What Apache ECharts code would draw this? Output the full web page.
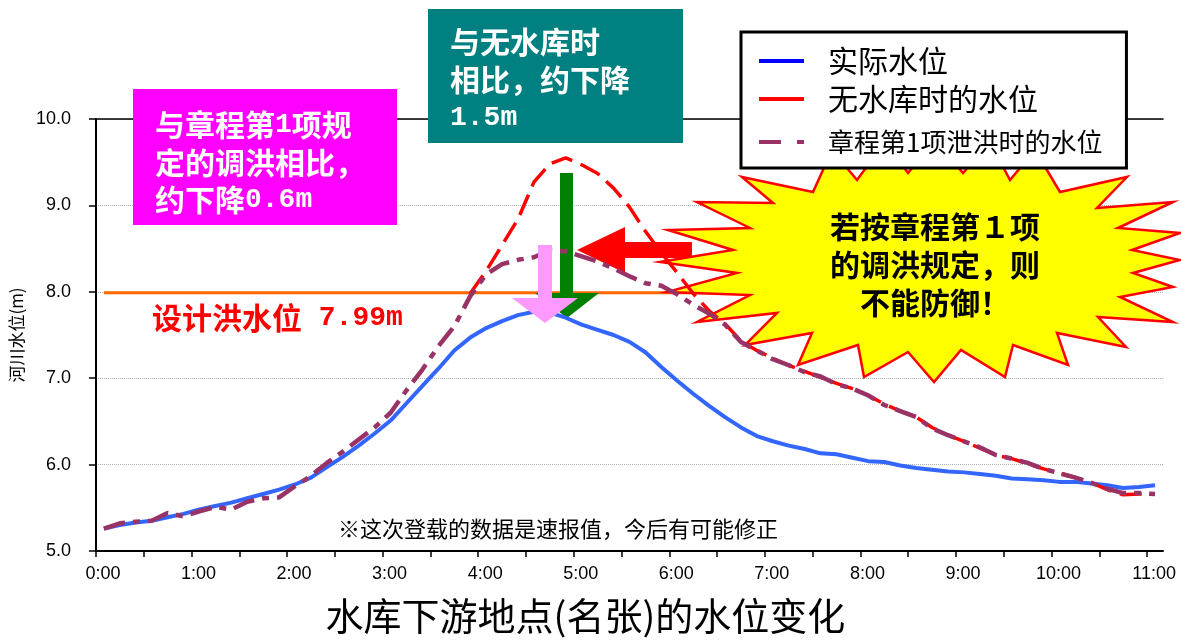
<!DOCTYPE html>
<html>
<head>
<meta charset="utf-8">
<script src="https://cdn.jsdelivr.net/npm/echarts@6/dist/echarts.min.js"></script>
<style>
  html, body { margin: 0; padding: 0; background: #fff; }
  #chart { width: 1181px; height: 640px; }
</style>
</head>
<body>
<div id="chart"></div>
<script>
// Observation times (minutes after 0:00)
const minutes = [5, 15, 25, 35, 45, 55, 65, 75, 85, 95, 105, 115, 125, 135, 145, 155, 165, 175, 185, 195,
  205, 215, 225, 235, 245, 255, 265, 275, 285, 295, 305, 315, 325, 335, 345, 355, 365, 375, 385, 395,
  405, 415, 425, 435, 445, 455, 465, 475, 485, 495, 505, 515, 525, 535, 545, 555, 565, 575, 585, 595,
  605, 615, 625, 635, 645, 655, 665];

// 实际水位 (m)
const actualLevel = [5.26, 5.30, 5.33, 5.35, 5.39, 5.43, 5.48, 5.52, 5.56, 5.61,
  5.66, 5.71, 5.77, 5.85, 5.97, 6.09, 6.22, 6.36, 6.51, 6.71,
  6.91, 7.11, 7.32, 7.47, 7.58, 7.66, 7.73, 7.77, 7.76, 7.70,
  7.62, 7.56, 7.50, 7.42, 7.30, 7.13, 6.97, 6.82, 6.68, 6.55,
  6.43, 6.33, 6.27, 6.22, 6.18, 6.13, 6.12, 6.08, 6.04, 6.03,
  5.99, 5.96, 5.94, 5.92, 5.91, 5.89, 5.87, 5.84, 5.83, 5.82,
  5.80, 5.80, 5.78, 5.76, 5.73, 5.74, 5.76];

// 无水库时的水位 (m) — computed only from 3:55 onward
const noDamLevel = [null, null, null, null, null, null, null, null, null, null,
  null, null, null, null, null, null, null, null, null, null,
  null, null, null, 7.98, 8.24, 8.54, 8.84, 9.27, 9.48, 9.55,
  9.47, 9.37, 9.20, 8.98, 8.70, 8.45, 8.22, 7.98, 7.78, 7.63,
  7.43, 7.32, 7.23, 7.15, 7.08, 7.01, 6.94, 6.88, 6.80, 6.70,
  6.62, 6.55, 6.43, 6.34, 6.27, 6.19, 6.11, 6.07, 6.01, 5.95,
  5.90, 5.85, 5.79, 5.71, 5.65, 5.66, 5.66];

// 章程第1项泄洪时的水位 (m)
const rule1Level = [5.26, 5.32, 5.34, 5.35, 5.44, 5.40, 5.46, 5.51, 5.48, 5.57,
  5.61, 5.62, 5.75, 5.87, 6.02, 6.15, 6.29, 6.43, 6.60, 6.86,
  7.10, 7.37, 7.60, 7.95, 8.20, 8.32, 8.37, 8.40, 8.48, 8.47,
  8.41, 8.35, 8.27, 8.18, 8.10, 8.07, 7.97, 7.85, 7.75, 7.62,
  7.42, 7.32, 7.22, 7.15, 7.07, 7.02, 6.93, 6.88, 6.80, 6.69,
  6.62, 6.55, 6.42, 6.34, 6.27, 6.20, 6.11, 6.07, 6.02, 5.95,
  5.90, 5.85, 5.79, 5.72, 5.67, 5.67, 5.66];

const hourLabels = ['0:00', '1:00', '2:00', '3:00', '4:00', '5:00', '6:00', '7:00', '8:00', '9:00', '10:00', '11:00'];
const designLevel = 7.99;          // 设计洪水位 (m)
const designSpan = [5, 390];       // minutes covered by the design-level line

const CJK = '"Noto Sans CJK SC", "Noto Sans", sans-serif';
const MONO = '"Liberation Mono", "DejaVu Sans Mono", monospace';

const pairs = (vals) => minutes.map((t, i) => [t, vals[i]]).filter(p => p[1] !== null);
const hourTicks = hourLabels.map((_, i) => i * 60);
const halfHourTicks = [];
for (let m = 0; m <= 660; m += 30) halfHourTicks.push(m);

// Rich-text line: CJK in a gothic face, Latin digits in a half-width mono face
function richLine(x, y, text, color, cjkSize, monoSize, align) {
  return {
    type: 'text', x: x, y: y, z: 6,
    style: {
      text: text, align: align || 'left', verticalAlign: 'middle',
      rich: {
        c: { fontFamily: CJK, fontWeight: 'bold', fontSize: cjkSize, fill: color },
        m: { fontFamily: MONO, fontWeight: 'bold', fontSize: monoSize, fill: color }
      }
    }
  };
}

const starPoints = [[742,177],[813,192],[832,150],[857,180],[885,142],[908,173],[935,140],[963,173],
  [990,142],[1010,180],[1035,150],[1060,192],[1127,177],[1097,208],[1173,202],[1118,228],[1180,233],
  [1132,250],[1180,260],[1133,273],[1173,287],[1120,297],[1173,322],[1098,317],[1126,347],[1057,333],
  [1068,365],[1013,345],[1005,377],[961,350],[934,382],[908,352],[864,377],[858,345],[798,365],
  [812,333],[745,345],[777,313],[697,322],[750,295],[667,292],[737,273],[660,262],[733,250],
  [668,230],[750,228],[697,202],[773,203]];

const chart = echarts.init(document.getElementById('chart'), null, { renderer: 'canvas' });

const option = {
  animation: false,
  backgroundColor: '#fff',
  grid: { left: 95, right: 18, top: 119, bottom: 85 },
  legend: {
    orient: 'vertical',
    left: 741, top: 32,
    padding: [14, 24, 6, 16],
    itemWidth: 45, itemHeight: 14, itemGap: 8,
    backgroundColor: '#fff',
    borderColor: '#000', borderWidth: 3, borderRadius: 0,
    itemStyle: { opacity: 0, borderWidth: 0 },
    lineStyle: { width: 4 },
    textStyle: { fontFamily: CJK, fontSize: 30, color: '#000', lineHeight: 30, padding: [0, 0, 0, 19] },
    data: [
      { name: '实际水位', lineStyle: { color: '#0000FF' } },
      { name: '无水库时的水位', lineStyle: { type: 'solid' } },
      { name: '章程第1项泄洪时的水位', lineStyle: { type: [22, 16, 7, 16] },
        textStyle: { fontSize: 26, lineHeight: 40 } }
    ]
  },
  xAxis: [
    {
      type: 'value', min: 0, max: 670, position: 'bottom',
      axisLine: { lineStyle: { color: '#000', width: 2 } },
      axisTick: { show: true, length: 6, customValues: halfHourTicks, lineStyle: { color: '#000', width: 1.5 } },
      axisLabel: {
        customValues: hourTicks,
        formatter: v => hourLabels[Math.round(v / 60)],
        color: '#000', fontSize: 18, fontFamily: '"Liberation Sans", Arial, sans-serif',
        margin: 14, padding: [0, 0, 0, 14]
      },
      splitLine: { show: false },
      name: '水库下游地点(名张)的水位变化',
      nameLocation: 'middle', nameGap: 46,
      nameTextStyle: { fontFamily: CJK, fontSize: 38, color: '#000', padding: [0, 88, 0, 0] }
    },
    {
      type: 'value', min: 0, max: 670, position: 'top',
      axisLine: { show: true, lineStyle: { color: '#000', width: 1.5 } },
      axisTick: { show: false }, axisLabel: { show: false }, splitLine: { show: false }
    }
  ],
  yAxis: [
    {
      type: 'value', min: 5, max: 10, interval: 1,
      axisLine: { show: true, lineStyle: { color: '#000', width: 2 } },
      axisTick: { show: true, length: 7, lineStyle: { color: '#000', width: 1.5 } },
      axisLabel: { formatter: v => v.toFixed(1), color: '#000', fontSize: 18,
        fontFamily: '"Liberation Sans", Arial, sans-serif', margin: 25 },
      splitLine: { show: true, lineStyle: { color: '#aaa', type: 'dotted', width: 1 } },
      name: '河川水位(m)', nameLocation: 'middle', nameGap: 60, nameRotate: 90,
      nameTextStyle: { fontFamily: CJK, fontSize: 17, color: '#000' }
    },
    {
      type: 'value', min: 5, max: 10, interval: 1, position: 'right', z: 3,
      axisLine: { show: true, lineStyle: { color: '#000', width: 1.5 } },
      axisTick: { show: false }, axisLabel: { show: false }, splitLine: { show: false }
    }
  ],
  series: [
    {
      name: '设计洪水位', type: 'line', z: 1, silent: true,
      data: designSpan.map(t => [t, designLevel]),
      symbol: 'none', lineStyle: { color: '#FF6600', width: 3 }
    },
    {
      name: '实际水位', type: 'line', data: pairs(actualLevel),
      symbol: 'none', color: '#3366FF',
      lineStyle: { color: '#3366FF', width: 4 }
    },
    {
      name: '无水库时的水位', type: 'line', data: pairs(noDamLevel),
      symbol: 'none', color: '#FF0000',
      lineStyle: { color: '#FF0000', width: 3.5, type: [22, 9] }
    },
    {
      name: '章程第1项泄洪时的水位', type: 'line', data: pairs(rule1Level),
      symbol: 'none', color: '#993366',
      lineStyle: { color: '#993366', width: 4.5, type: [22, 8, 7, 8] }
    }
  ],
  graphic: {
    elements: [
      // starburst call-out
      { type: 'polygon', z: 1.5, shape: { points: starPoints },
        style: { fill: '#FFFF00', stroke: '#FF0000', lineWidth: 2.5 } },
      { type: 'text', x: 935, y: 227, z: 1.6, style: { text: '若按章程第１项', align: 'center', verticalAlign: 'middle',
        font: 'bold 30px ' + CJK, fill: '#000' } },
      { type: 'text', x: 935, y: 265, z: 1.6, style: { text: '的调洪规定，则', align: 'center', verticalAlign: 'middle',
        font: 'bold 30px ' + CJK, fill: '#000' } },
      { type: 'text', x: 935, y: 303, z: 1.6, style: { text: '不能防御！', align: 'center', verticalAlign: 'middle',
        font: 'bold 30px ' + CJK, fill: '#000' } },

      // red arrow pointing to the no-dam peak
      { type: 'polygon', z: 3, shape: { points: [[577,250],[625,227],[625,242],[692,242],[692,258],[625,258],[625,273]] },
        style: { fill: '#FF0000' } },
      // green arrow: drop relative to the no-dam case
      { type: 'rect', z: 3, shape: { x: 560, y: 173, width: 13, height: 121 }, style: { fill: '#008000' } },
      { type: 'polygon', z: 3, shape: { points: [[535,293],[599,293],[567,318]] }, style: { fill: '#008000' } },
      // pink arrow: drop relative to rule-1 operation
      { type: 'rect', z: 3.1, shape: { x: 538, y: 245, width: 14, height: 54 }, style: { fill: '#FF99FF' } },
      { type: 'polygon', z: 3.1, shape: { points: [[512,298],[578,298],[545,323]] }, style: { fill: '#FF99FF' } },

      // magenta note box
      { type: 'rect', z: 5, shape: { x: 133, y: 89, width: 264, height: 136 }, style: { fill: '#FF00FF' } },
      richLine(155, 125, '{c|与章程第}{m|1}{c|项规}', '#fff', 30, 28),
      richLine(155, 163, '{c|定的调洪相比，}', '#fff', 30, 28),
      richLine(155, 200, '{c|约下降}{m|0.6m}', '#fff', 30, 28),

      // teal note box
      { type: 'rect', z: 5, shape: { x: 428, y: 9, width: 255, height: 134 }, style: { fill: '#008080' } },
      richLine(450, 42, '{c|与无水库时}', '#fff', 30, 28),
      richLine(450, 80, '{c|相比，约下降}', '#fff', 30, 28),
      richLine(450, 118, '{m|1.5m}', '#fff', 30, 28),

      // design flood level label
      richLine(152, 318, '{c|设计洪水位}{m| ' + designLevel.toFixed(2) + 'm}', '#FF0000', 30, 28),

      // footnote
      { type: 'text', x: 338, y: 529, z: 2, style: { text: '※这次登载的数据是速报值，今后有可能修正',
        verticalAlign: 'middle', font: '22px ' + CJK, fill: '#000' } }
    ]
  }
};

chart.setOption(option);
</script>
</body>
</html>
